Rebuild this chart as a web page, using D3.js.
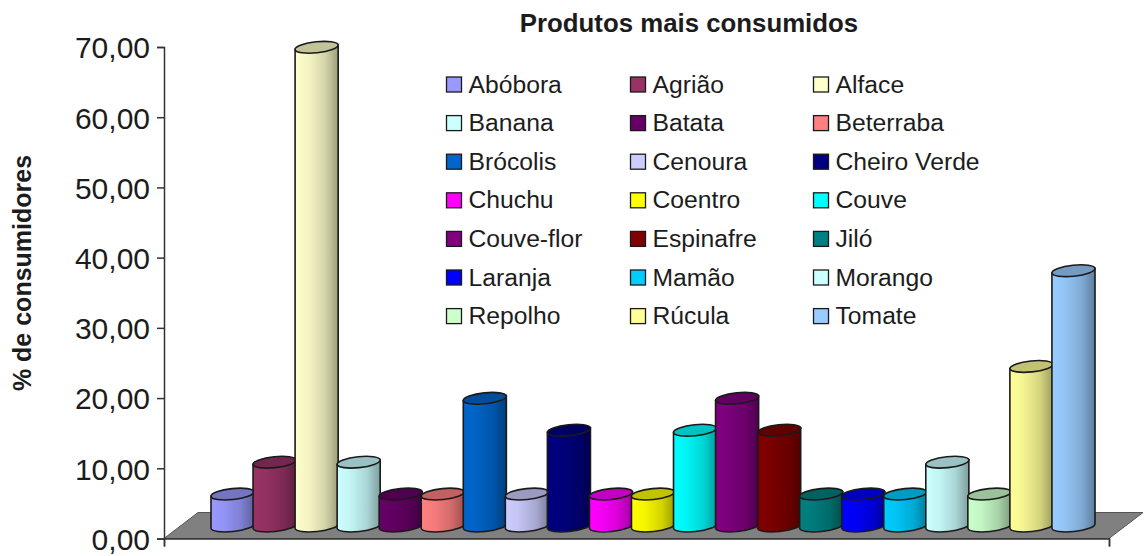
<!DOCTYPE html>
<html>
<head>
<meta charset="utf-8">
<script src="https://cdn.jsdelivr.net/npm/d3@7"></script>
<style>
  html, body { margin: 0; padding: 0; background: #fff; }
  svg { display: block; }
  text { font-family: "Liberation Sans", Arial, sans-serif; fill: #1c1c1c; }
</style>
</head>
<body>
<div id="chart"></div>
<script>
// % of consumers per product
var products = ['Abóbora', 'Agrião', 'Alface', 'Banana', 'Batata', 'Beterraba', 'Brócolis',
  'Cenoura', 'Cheiro Verde', 'Chuchu', 'Coentro', 'Couve', 'Couve-flor', 'Espinafre',
  'Jiló', 'Laranja', 'Mamão', 'Morango', 'Repolho', 'Rúcula', 'Tomate'];
var values = [4.55, 9.09, 68.18, 9.09, 4.55, 4.55, 18.18,
  4.55, 13.64, 4.55, 4.55, 13.64, 18.18, 13.64,
  4.55, 4.55, 4.55, 9.09, 4.55, 22.73, 36.36];
var yTicks = [0, 10, 20, 30, 40, 50, 60, 70];
var colors = ['#9999FF', '#993366', '#FFFFCC', '#CCFFFF', '#660066', '#FF8080', '#0066CC',
  '#CCCCFF', '#000080', '#FF00FF', '#FFFF00', '#00FFFF', '#800080', '#800000',
  '#008080', '#0000FF', '#00CCFF', '#CCFFFF', '#CCFFCC', '#FFFF99', '#99CCFF'];

var width = 1144, height = 556;
var axisX = 164, axisEnd = 1109, y0 = 538.5, y70 = 47;
var floorDepthX = 34, floorDepthY = 26;   // how far the floor runs back
var baseShift = 12.5;                     // cylinders stand in the middle of the floor
var tilt = -6, ry = 5.5;

var svg = d3.select('#chart').append('svg')
  .attr('width', width)
  .attr('height', height);

var yS = d3.scaleLinear().domain([0, 70]).range([y0, y70]);
var xS = d3.scaleBand().domain(products).range([211.5, 1094.5]);
var colorS = d3.scaleOrdinal().domain(products).range(colors);
var edgeS = d3.scaleLinear().domain([0, 1]).range([axisX, axisEnd]);

// one gradient per bar, light on the left going dark to the right
var defs = svg.append('defs');
products.forEach(function(p, i) {
  var c = colorS(p);
  var g = defs.append('linearGradient').attr('id', 'cyl' + i);
  g.append('stop').attr('offset', '0%').attr('stop-color', c);
  g.append('stop').attr('offset', '30%').attr('stop-color', d3.interpolateRgb(c, '#000')(0.04));
  g.append('stop').attr('offset', '70%').attr('stop-color', d3.interpolateRgb(c, '#000')(0.17));
  g.append('stop').attr('offset', '100%').attr('stop-color', d3.interpolateRgb(c, '#000')(0.38));
});

// floor
svg.append('path')
  .attr('d', 'M' + axisX + ',' + y0 +
    'L' + (axisX + floorDepthX) + ',' + (y0 - floorDepthY) +
    'L' + (axisEnd + floorDepthX) + ',' + (y0 - floorDepthY) +
    'L' + axisEnd + ',' + y0 + 'Z')
  .style('fill', '#808080')
  .style('stroke', '#555')
  .style('stroke-width', 1);

// axes
var yAxis = svg.append('g')
  .attr('transform', 'translate(' + axisX + ',0)')
  .call(d3.axisLeft(yS).tickValues(yTicks).tickSize(7).tickPadding(7)
    .tickFormat(function(d) { return d3.format('.2f')(d).replace('.', ','); }));
yAxis.selectAll('text').style('font-size', '30px').attr('dy', '0.36em');
yAxis.selectAll('line, path').style('stroke', '#333').style('stroke-width', 1.5);

var xAxis = svg.append('g')
  .attr('transform', 'translate(0,' + y0 + ')')
  .call(d3.axisBottom(edgeS).tickValues([0, 1]).tickSize(8).tickFormat(''));
xAxis.selectAll('line, path').style('stroke', '#333').style('stroke-width', 1.5);

// cylinders, drawn left to right so each one overlaps the one before
var rx = xS.bandwidth() * 0.515;
var a = tilt * Math.PI / 180;
var dx = rx * Math.cos(a), dy = rx * Math.sin(a);

var bars = svg.selectAll('.bar')
  .data(products)
  .enter()
  .append('g')
  .attr('class', 'bar');

bars.append('path')
  .attr('d', function(d, i) {
    var cx = xS(d) + xS.bandwidth() / 2;
    var top = yS(values[i]) - baseShift, bot = y0 - baseShift;
    return 'M' + (cx - dx) + ',' + (top - dy) +
      'L' + (cx - dx) + ',' + (bot - dy) +
      'A' + rx + ',' + ry + ' ' + tilt + ' 0 0 ' + (cx + dx) + ',' + (bot + dy) +
      'L' + (cx + dx) + ',' + (top + dy) + 'Z';
  })
  .style('fill', function(d, i) { return 'url(#cyl' + i + ')'; })
  .style('stroke', '#1a1a1a')
  .style('stroke-width', 1.6);

bars.append('ellipse')
  .attr('rx', rx)
  .attr('ry', ry)
  .attr('transform', function(d, i) {
    var cx = xS(d) + xS.bandwidth() / 2;
    return 'translate(' + cx + ',' + (yS(values[i]) - baseShift) + ') rotate(' + tilt + ')';
  })
  .style('fill', function(d) { return d3.interpolateRgb(colorS(d), '#000')(0.24); })
  .style('stroke', '#1a1a1a')
  .style('stroke-width', 1.6);

// legend, filled by rows
var legendCols = [446, 630, 813], legendTop = 84, legendStep = 38.6;
var legend = svg.selectAll('.leg')
  .data(products)
  .enter()
  .append('g')
  .attr('class', 'leg')
  .attr('transform', function(d, i) {
    return 'translate(' + legendCols[i % 3] + ',' + (legendTop + Math.floor(i / 3) * legendStep) + ')';
  });
legend.append('rect')
  .attr('x', 0.5).attr('y', -7)
  .attr('width', 15).attr('height', 15)
  .style('fill', function(d) { return colorS(d); })
  .style('stroke', '#1a1a1a')
  .style('stroke-width', 1.3);
legend.append('text')
  .attr('x', 22.5).attr('y', 8.5)
  .style('font-size', '24.7px')
  .text(function(d) { return d; });

// titles
svg.append('text')
  .attr('x', 689).attr('y', 32)
  .attr('text-anchor', 'middle')
  .style('font-size', '25.8px')
  .style('font-weight', 'bold')
  .text('Produtos mais consumidos');
svg.append('text')
  .attr('transform', 'translate(31,273) rotate(-90)')
  .attr('text-anchor', 'middle')
  .style('font-size', '25px')
  .style('font-weight', 'bold')
  .text('% de consumidores');
</script>
</body>
</html>
